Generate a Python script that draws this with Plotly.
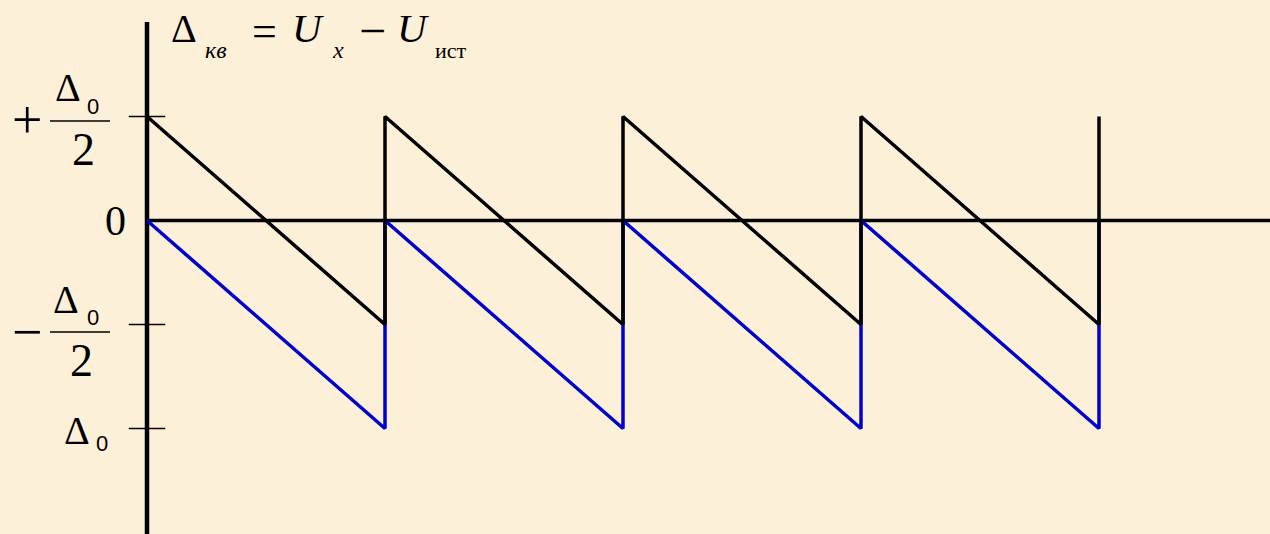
import plotly.graph_objs as go

# sawtooth data: one tooth per unit of x, 4 periods
saw_x = [0, 1, 1, 2, 2, 3, 3, 4, 4]
black_y = [0.5, -0.5, 0.5, -0.5, 0.5, -0.5, 0.5, -0.5, 0.5]
blue_y = [0, -1, 0, -1, 0, -1, 0, -1, 0]

# y tick marks on the vertical axis
tick_vals = [0.5, -0.5, -1]

W, H = 1270, 534
# pixel mapping of the plot: x=0 at 147px, 238px per period; y=0 at 220.5px, 208px per unit
x_range = [-147 / 238, (W - 147) / 238]
y_range = [-(H - 220.5) / 208, 220.5 / 208]

BG = '#fdf0d8'
SERIF = 'Liberation Serif'
SANS = 'Liberation Sans'


def px(xp, yp):
    return xp / W, 1 - yp / H


fig = go.Figure()

fig.add_trace(go.Scatter(x=saw_x, y=blue_y, mode='lines',
                         line=dict(color='#0000cc', width=3.5), hoverinfo='skip'))
fig.add_trace(go.Scatter(x=saw_x, y=black_y, mode='lines',
                         line=dict(color='black', width=3.5), hoverinfo='skip'))
fig.add_trace(go.Scatter(x=[0] * len(tick_vals), y=tick_vals, mode='markers',
                         marker=dict(symbol='line-ew', size=26,
                                     line=dict(color='black', width=1.6)),
                         hoverinfo='skip'))

shapes = [
    # vertical axis
    dict(type='line', xref='x', yref='y', x0=0, x1=0, y0=y_range[0] - 0.1, y1=(220.5 - 22) / 208,
         line=dict(color='black', width=4.5), layer='below'),
    # horizontal axis
    dict(type='line', xref='x', yref='y', x0=0, x1=x_range[1] + 0.1, y0=0, y1=0,
         line=dict(color='black', width=3.5), layer='below'),
]

# fraction bars of the tick labels
for yb in [121, 332]:
    x0, y0 = px(50, yb)
    x1, _ = px(110, yb)
    shapes.append(dict(type='line', xref='paper', yref='paper', x0=x0, x1=x1, y0=y0, y1=y0,
                       line=dict(color='black', width=1.6)))

# text pieces: (text, left px, center px, size, family)
pieces = [
    # title formula
    ('Δ', 169, 28, 40, SERIF),
    ('<i>кв</i>', 203, 50, 24, SERIF),
    ('=', 250, 31, 44, SERIF),
    ('<i>U</i>', 290, 28, 41, SERIF),
    ('<i>x</i>', 330, 50, 24, SERIF),
    ('−', 357, 30, 48, SERIF),
    ('<i>U</i>', 395, 28, 41, SERIF),
    ('ист', 433, 50, 22, SERIF),
    # +Δ0/2
    ('+', 10, 120, 54, SERIF),
    ('Δ', 53, 88, 40, SERIF),
    ('0', 85, 106, 22, SANS),
    ('2', 70, 149, 46, SERIF),
    # -Δ0/2
    ('−', 10, 332, 54, SERIF),
    ('Δ', 51, 299, 40, SERIF),
    ('0', 85, 317, 22, SANS),
    ('2', 68, 360, 46, SERIF),
    # Δ0
    ('Δ', 62, 430, 40, SERIF),
    ('0', 94, 443, 22, SANS),
]

annotations = []
for text, xl, yc, size, fam in pieces:
    ax, ay = px(xl, yc)
    annotations.append(dict(text=text, x=ax, y=ay, xref='paper', yref='paper',
                            xanchor='left', yanchor='middle', showarrow=False,
                            font=dict(family=fam, size=size, color='black')))

# zero label
zx, zy = px(128, 221)
annotations.append(dict(text='0', x=zx, y=zy, xref='paper', yref='paper',
                        xanchor='right', yanchor='middle', showarrow=False,
                        font=dict(family=SERIF, size=42, color='black')))

fig.update_layout(
    width=W, height=H,
    margin=dict(l=0, r=0, t=0, b=0),
    paper_bgcolor=BG, plot_bgcolor=BG,
    showlegend=False,
    xaxis=dict(range=x_range, visible=False, fixedrange=True),
    yaxis=dict(range=y_range, visible=False, fixedrange=True),
    shapes=shapes,
    annotations=annotations,
)

# drop the page margin so the figure fills the window
fig.write_html('out.html', config={'displayModeBar': False},
               post_script="document.body.style.margin='0';")
